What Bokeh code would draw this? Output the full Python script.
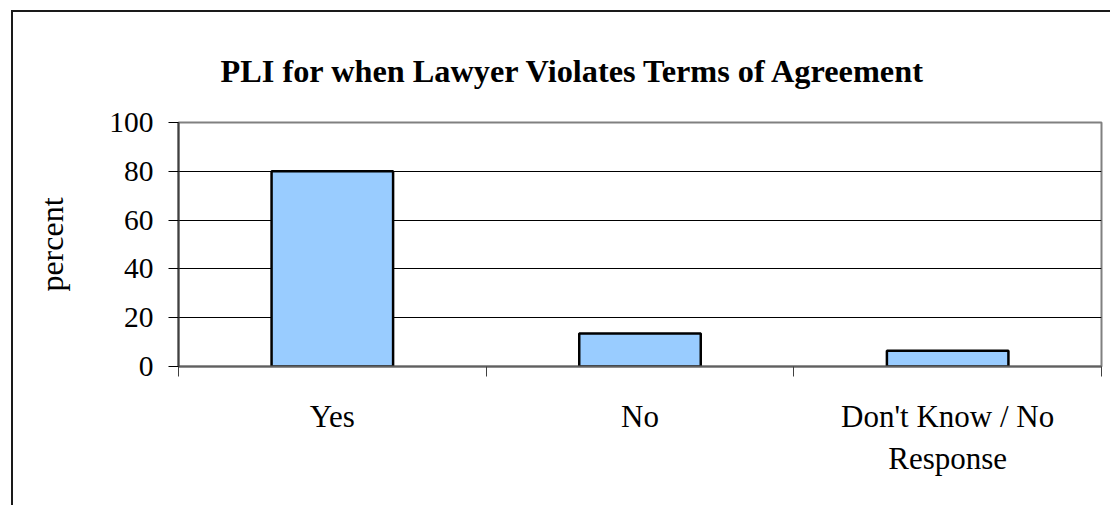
from bokeh.plotting import figure
from bokeh.models import FixedTicker, Range1d, ColumnDataSource
from bokeh.embed import file_html
from bokeh.resources import INLINE

# ---- data ----
categories = ["Yes", "No", "Don't Know / No Response"]
category_labels = ["Yes", "No", "Don't Know / No\nResponse"]
percent = [80, 13.5, 6.5]
y_ticks = [0, 20, 40, 60, 80, 100]
title_text = "PLI for when Lawyer Violates Terms of Agreement"
y_label = "percent"

# ---- positions derived from data ----
centers = [i + 0.5 for i in range(len(categories))]
bounds = list(range(len(categories) + 1))

src = ColumnDataSource(dict(x=centers, top=percent, cat=categories))

FONT = "Liberation Serif"

p = figure(width=1099, height=495, output_backend="svg", toolbar_location=None,
           x_range=Range1d(bounds[0], bounds[-1]), y_range=Range1d(y_ticks[0], y_ticks[-1]),
           min_border_left=165, min_border_right=11, min_border_top=110, min_border_bottom=141,
           title=title_text)
p.styles = {"margin-left": "11px", "margin-top": "10px",
            "border-left": "2px solid #1a1a1a", "border-top": "2px solid #1a1a1a"}

p.vbar(x="x", top="top", width=0.395, bottom=0, source=src,
       fill_color="#99CCFF", line_color="black", line_width=2.5)

# title
p.title.text_font = FONT
p.title.text_font_size = "32.3px"
p.title.text_font_style = "bold"
p.title.align = "left"
p.title.offset = 42
p.title.standoff = 67
p.title.text_color = "black"

# outline
p.outline_line_color = "#808080"
p.outline_line_width = 2

# grid
p.xgrid.visible = False
p.ygrid.ticker = FixedTicker(ticks=y_ticks[1:-1])
p.ygrid.grid_line_color = "black"
p.ygrid.grid_line_width = 1

# y axis
ya = p.yaxis[0]
ya.ticker = FixedTicker(ticks=y_ticks)
ya.axis_label = y_label
ya.axis_label_text_font = FONT
ya.axis_label_text_font_size = "32px"
ya.axis_label_text_font_style = "normal"
ya.axis_label_text_color = "black"
ya.axis_label_standoff = 36
ya.major_label_text_font = FONT
ya.major_label_text_font_size = "29.5px"
ya.major_label_text_color = "black"
ya.major_label_standoff = 15
ya.major_tick_out = 10
ya.major_tick_in = 0
ya.major_tick_line_color = "black"
ya.minor_tick_line_color = None
ya.axis_line_color = "#404040"
ya.axis_line_width = 2

# x axis
xa = p.xaxis[0]
xa.ticker = FixedTicker(ticks=centers, minor_ticks=bounds)
xa.major_label_overrides = {c: lab for c, lab in zip(centers, category_labels)}
xa.major_label_text_font = FONT
xa.major_label_text_font_size = "31px"
xa.major_label_text_color = "black"
xa.major_label_text_line_height = 1.2
xa.major_label_standoff = 22
xa.major_tick_in = 0
xa.major_tick_out = 0
xa.minor_tick_in = 0
xa.minor_tick_out = 10
xa.minor_tick_line_color = "#404040"
xa.minor_tick_line_width = 1
xa.axis_line_color = "#606060"
xa.axis_line_width = 2

open("out.html", "w").write(file_html(p, INLINE))
